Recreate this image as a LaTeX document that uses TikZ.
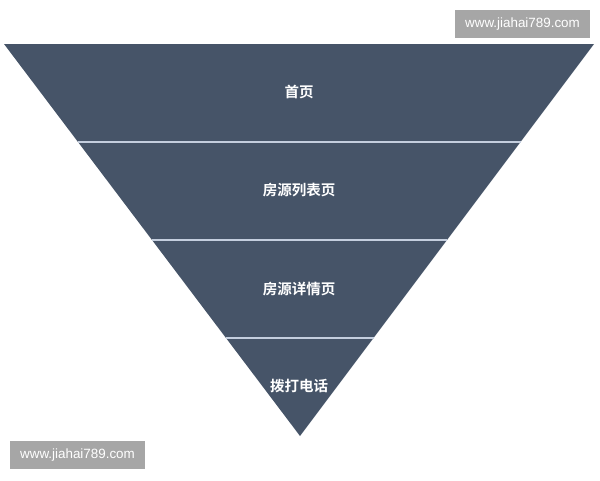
\documentclass[tikz,border=0pt]{standalone}
\usepackage{fontspec}
\setmainfont{Liberation Sans}
\newfontfamily\cjk{Noto Sans CJK SC}[BoldFont={Noto Sans CJK SC Bold}]
\usepackage{tikz}
\usetikzlibrary{calc}

\begin{document}
\begin{tikzpicture}[x=1pt,y=-1pt]
  \definecolor{funnel}{RGB}{70,84,104};
  \definecolor{seam}  {RGB}{196,206,222};
  \definecolor{mark}  {RGB}{166,166,166};
  \tikzstyle{stage}=[text=white,font=\cjk\bfseries\fontsize{14.5}{16}\selectfont]
  \tikzstyle{site}=[fill=mark,text=white,inner sep=0pt,minimum width=135,minimum height=28,font=\fontsize{13.4}{15}\selectfont]
  \useasboundingbox (0,0) rectangle (600,480);
  % funnel
  \coordinate (tl) at (4,44);
  \coordinate (tr) at (594,44);
  \coordinate (apex) at (300,436);
  \fill[funnel] (tl) -- (tr) -- (apex) -- cycle;
  \foreach \t in {0.25,0.5,0.75}
    \draw[seam,line width=1.6] ($(tl)!\t!(apex)$) -- ($(tr)!\t!(apex)$);
  % stages
  \node at (299,92)  [stage] (home)   {首页};
  \node at (299,190) [stage] (list)   {房源列表页};
  \node at (299,289) [stage] (detail) {房源详情页};
  \node at (299,386) [stage] (call)   {拨打电话};
  % watermarks
  \node at (522.5,24) [site] (wmtop) {www.jiahai789.com};
  \node at (77.5,455) [site] (wmbot) {www.jiahai789.com};
\end{tikzpicture}
\end{document}
